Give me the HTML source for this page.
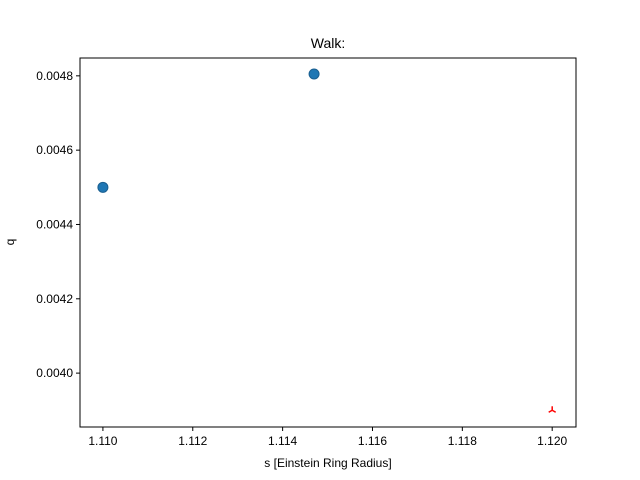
<!DOCTYPE html>
<html><head><meta charset="utf-8"><style>body{margin:0;background:#fff}svg{display:block;font-family:"Liberation Sans","DejaVu Sans",sans-serif}</style></head>
<body>
<svg id="chart" width="640" height="480"></svg>
<script>
const sVals=[1.110,1.1147];
const qVals=[0.0045,0.004805];
const markS=[1.120];
const markQ=[0.0039];
const xTicks=[1.110,1.112,1.114,1.116,1.118,1.120];
const yTicks=[0.0040,0.0042,0.0044,0.0046,0.0048];
const L=80,R=576,T=58,B=427;
const xMin=1.10949,xMax=1.12053,yMin=0.003855,yMax=0.004848;
const X=v=>L+(v-xMin)/(xMax-xMin)*(R-L);
const Y=v=>B-(v-yMin)/(yMax-yMin)*(B-T);
const svg=document.getElementById('chart');
const NS='http://www.w3.org/2000/svg';
function mk(t,a,p){const e=document.createElementNS(NS,t);for(const k in a)e.setAttribute(k,a[k]);(p||svg).appendChild(e);return e;}
let t=mk('text',{x:328,y:48,'text-anchor':'middle','font-size':14});t.textContent='Walk:';


xTicks.forEach(v=>{const x=X(v);mk('line',{x1:x,x2:x,y1:B,y2:B+4,stroke:'#000'});
const tx=mk('text',{x:x,y:B+18,'text-anchor':'middle','font-size':12});tx.textContent=v.toFixed(3);

});
yTicks.forEach(v=>{const y=Y(v);mk('line',{x1:L-4,x2:L,y1:y,y2:y,stroke:'#000'});
const tx=mk('text',{x:L-7,y:y+4,'text-anchor':'end','font-size':12});tx.textContent=v.toFixed(4);

});
t=mk('text',{x:328,y:467,'text-anchor':'middle','font-size':12});t.textContent='s [Einstein Ring Radius]';


t=mk('text',{x:14,y:242,'text-anchor':'middle','font-size':12,transform:'rotate(-90 14 242)'});t.textContent='q';


sVals.forEach((s,i)=>{const c=mk('circle',{cx:X(s),cy:Y(qVals[i]),r:5,fill:'#1f77b4',stroke:'#1a5f90','stroke-width':1});

});
markS.forEach((s,i)=>{const x=X(s),y=Y(markQ[i]);const g=mk('g',{stroke:'red','stroke-width':1.5});
mk('line',{x1:x,y1:y,x2:x,y2:y-4},g);mk('line',{x1:x,y1:y,x2:x-3.5,y2:y+2},g);mk('line',{x1:x,y1:y,x2:x+3.5,y2:y+2},g);

});
const f=mk('rect',{x:L,y:T,width:R-L,height:B-T,fill:'none',stroke:'#000','stroke-width':1});


</script>
</body></html>
